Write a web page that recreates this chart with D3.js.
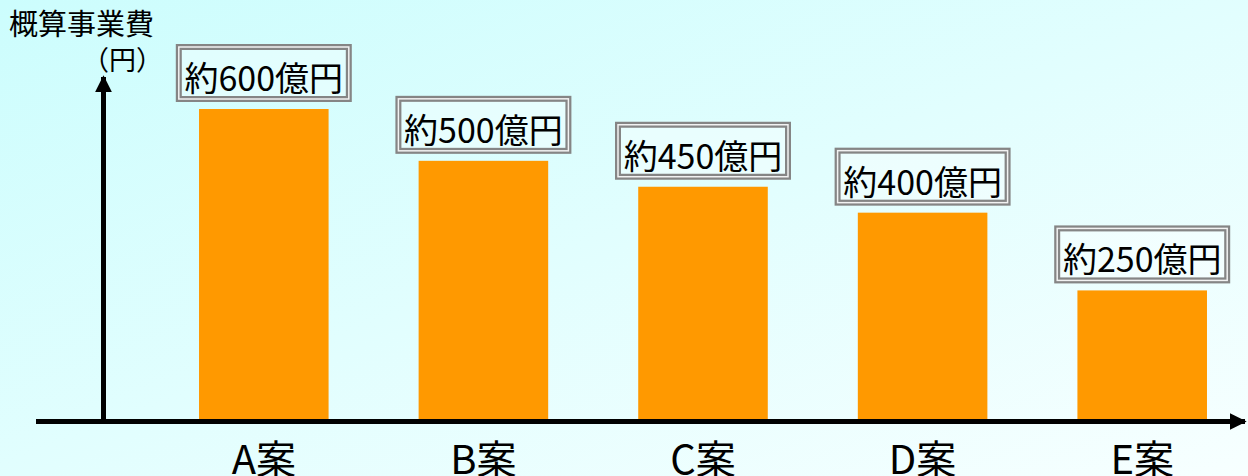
<!DOCTYPE html>
<html>
<head>
<meta charset="utf-8">
<script src="https://cdn.jsdelivr.net/npm/d3@7"></script>
<style>
  body { margin: 0; overflow: hidden; }
  text { font-family: "Noto Sans CJK JP", "Noto Sans", sans-serif; fill: #000; }
</style>
</head>
<body>
<div id="chart"></div>
<script>
const width = 1248
const height = 476

// datos
const categories = ["A案", "B案", "C案", "D案", "E案"]
const costs = [600, 500, 450, 400, 250]
const costLabels = ["約600億円", "約500億円", "約450億円", "約400億円", "約250億円"]
const yTitle = "概算事業費"
const yUnit = "（円）"

const data = categories.map((c, i) => ({ name: c, value: costs[i], label: costLabels[i] }))

const svg = d3.select("div#chart")
  .append("svg")
  .attr("width", width)
  .attr("height", height)

// fondo degradado
const defs = svg.append("defs")
const grad = defs.append("linearGradient")
  .attr("id", "bg")
  .attr("x1", 0).attr("y1", 0).attr("x2", 1).attr("y2", 1)
grad.append("stop").attr("offset", "0%").attr("stop-color", "#ccfdfd")
grad.append("stop").attr("offset", "100%").attr("stop-color", "#f7ffff")

svg.append("rect")
  .attr("width", width)
  .attr("height", height)
  .attr("fill", "url(#bg)")

const arrow = defs.append("marker")
  .attr("id", "arrow")
  .attr("viewBox", "0 0 10 10")
  .attr("refX", 9).attr("refY", 5)
  .attr("markerUnits", "userSpaceOnUse")
  .attr("markerWidth", 17).attr("markerHeight", 17)
  .attr("orient", "auto")
arrow.append("path").attr("d", "M0,0 L10,5 L0,10 Z").attr("fill", "#000")

// escalas
const x = d3.scaleBand()
  .domain(categories)
  .range([154, 1252])
  .paddingInner(0.41)
  .paddingOuter(0.205)

const y = d3.scaleLinear()
  .domain([0, 600])
  .range([420, 109])

const elementGroup = svg.append("g").attr("id", "elementGroup")

// barras
elementGroup.selectAll("rect.bar").data(data)
  .join("rect")
  .attr("class", "bar")
  .attr("x", d => x(d.name))
  .attr("y", d => y(d.value))
  .attr("width", x.bandwidth())
  .attr("height", d => y(0) - y(d.value))
  .attr("fill", "#ff9900")

// etiquetas con doble borde
const boxW = 176
const boxH = 58
const labels = elementGroup.selectAll("g.label").data(data)
  .join("g")
  .attr("class", "label")
  .attr("transform", d => `translate(${x(d.name) + x.bandwidth() / 2 - boxW / 2}, ${y(d.value) - 7 - boxH})`)

labels.append("rect")
  .attr("x", 3).attr("y", 3)
  .attr("width", boxW - 6).attr("height", boxH - 6)
  .attr("fill", "#ffffff").attr("fill-opacity", 0.35)
  .attr("stroke", "#858585").attr("stroke-width", 6)
labels.append("rect")
  .attr("x", 3).attr("y", 3)
  .attr("width", boxW - 6).attr("height", boxH - 6)
  .attr("fill", "none")
  .attr("stroke", "#f2f2f2").attr("stroke-width", 1.5)
labels.append("text")
  .attr("x", boxW / 2)
  .attr("y", 47)
  .attr("text-anchor", "middle")
  .style("font-size", "34px")
  .text(d => d.label)

// ejes
const axisGroup = svg.append("g").attr("id", "axisGroup")
axisGroup.append("line")
  .attr("x1", 36).attr("y1", 421.5)
  .attr("x2", 1245).attr("y2", 421.5)
  .attr("stroke", "#000").attr("stroke-width", 5)
  .attr("marker-end", "url(#arrow)")
axisGroup.append("line")
  .attr("x1", 103.5).attr("y1", 424)
  .attr("x2", 103.5).attr("y2", 77)
  .attr("stroke", "#000").attr("stroke-width", 5)
  .attr("marker-end", "url(#arrow)")

const xAxisGroup = axisGroup.append("g")
  .attr("transform", `translate(0, 424)`)
  .call(d3.axisBottom(x).tickSize(0).tickPadding(0))
xAxisGroup.select(".domain").remove()
xAxisGroup.selectAll("text")
  .attr("dy", null)
  .attr("y", 50)
  .style("font-size", "40px")
  .style("font-family", "\"Noto Sans CJK JP\", sans-serif")
  .attr("fill", "#000")

// título del eje
svg.append("text")
  .attr("x", 9).attr("y", 35)
  .style("font-size", "29px")
  .text(yTitle)
svg.append("text")
  .attr("x", 82).attr("y", 70)
  .style("font-size", "27px")
  .text(yUnit)
</script>
</body>
</html>
